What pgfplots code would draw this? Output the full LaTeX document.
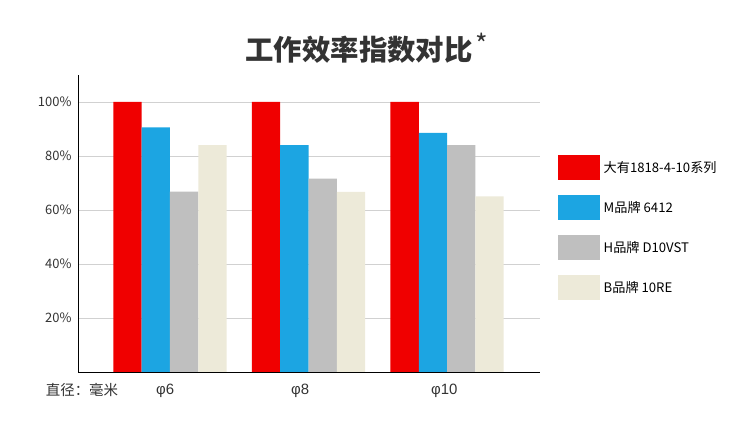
\documentclass[border=0pt]{standalone}
\usepackage{fontspec}
\setmainfont{Noto Sans CJK SC}
\newfontfamily\phifont{Liberation Sans}
\usepackage{pgfplots}
\pgfplotsset{compat=1.18}
\definecolor{cRed}{HTML}{F00000}
\definecolor{cBlue}{HTML}{1CA5E2}
\definecolor{cGray}{HTML}{BFBFBF}
\definecolor{cBeige}{HTML}{EDEAD9}
\definecolor{cText}{HTML}{333333}
\begin{document}
\begin{tikzpicture}[x=1bp,y=1bp]
\useasboundingbox (0,0) rectangle (750,433);
\begin{axis}[
  at={(78bp,61bp)}, anchor=south west,
  scale only axis, width=462bp, height=297bp,
  xmin=-0.664, xmax=2.671, ymin=0, ymax=110,
  ybar=0pt, bar width=28.3bp,
  axis x line*=bottom, axis y line*=left,
  axis line style={black, line width=0.9bp, -},
  ymajorgrids, grid style={color=black!18, line width=0.9bp},
  major tick length=0pt,
  xtick={-0.035,0.94,1.98}, xticklabels={φ6,φ8,φ10},
  x tick label style={font=\fontsize{15}{17}\selectfont\phifont, text=cText, yshift=-9bp},
  ytick={20,40,60,80,100},
  yticklabel={\pgfmathprintnumber{\tick}\%},
  /pgf/number format/assume math mode=true,
  y tick label style={font=\fontsize{13}{15}\selectfont, text=cText, xshift=-3bp},
  legend image code/.code={\fill[#1] (0bp,-12.5bp) rectangle (42bp,12.5bp);},
  legend style={at={(rel axis cs:1.039,0.7306)}, anchor=north west, draw=none, fill=none,
    inner sep=0pt, row sep=15bp, column sep=3bp,
    font=\fontsize{13.2}{15}\selectfont, text=black,
    nodes={inner sep=0.5bp, anchor=west}},
  legend cell align=left,
]
\addplot[fill=cRed, draw=none] coordinates {(0,100) (1,100) (2,100)};
\addplot[fill=cBlue, draw=none] coordinates {(0,90.6) (1,84) (2,88.6)};
\addplot[fill=cGray, draw=none] coordinates {(0,66.8) (1,71.6) (2,84)};
\addplot[fill=cBeige, draw=none] coordinates {(0,84) (1,66.7) (2,65)};
\legend{大有1818-4-10系列, M品牌 6412, H品牌 D10VST, B品牌 10RE}
\end{axis}
\node[font=\fontsize{28.5}{31}\selectfont\bfseries, text=cText] at (359,383) {工作效率指数对比};
\node[font=\fontsize{27}{29}\selectfont, text=cText] at (482,389) {*};
\node[font=\fontsize{14.5}{16}\selectfont, text=cText] at (82,43) {直径：毫米};
\end{tikzpicture}
\end{document}
